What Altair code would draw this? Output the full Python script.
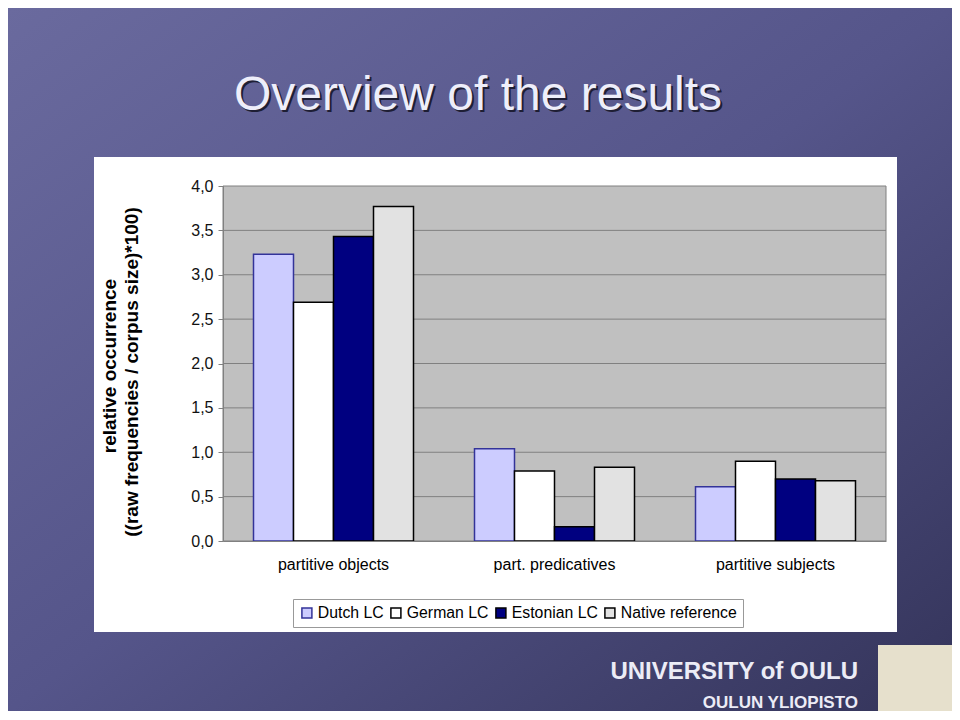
import altair as alt
import pandas as pd

# ---- data ----
categories = ["partitive objects", "part. predicatives", "partitive subjects"]
series = ["Dutch LC", "German LC", "Estonian LC", "Native reference"]
dutch = [3.23, 1.04, 0.61]
german = [2.69, 0.79, 0.90]
estonian = [3.43, 0.16, 0.70]
native = [3.77, 0.83, 0.68]
y_ticks = [0.0, 0.5, 1.0, 1.5, 2.0, 2.5, 3.0, 3.5, 4.0]
grid_vals = [0.5, 1.0, 1.5, 2.0, 2.5, 3.0, 3.5]
title_text = "Overview of the results"
ytitle1 = "relative occurrence"
ytitle2 = "((raw frequencies / corpus size)*100)"
footer1 = "UNIVERSITY of OULU"
footer2 = "OULUN YLIOPISTO"

fills = ["#CCCCFF", "#FFFFFF", "#000080", "#E2E2E2"]
strokes = ["#333399", "#000000", "#000000", "#000000"]

rows = []
for s, vals in zip(series, [dutch, german, estonian, native]):
    for c, v in zip(categories, vals):
        rows.append({"category": c, "series": s, "value": v})
df = pd.DataFrame(rows)
one = pd.DataFrame({"a": [0]})

W, H = 663, 355
PL, PT, PR, PB = 215, 178, 66, 170
FONT = "Liberation Sans, Arial, sans-serif"

y_axis = alt.Axis(values=y_ticks, grid=False, domainColor="#808080",
                  tickColor="#808080", tickSize=5, labelFontSize=16,
                  labelFont=FONT, labelColor="#111111", labelPadding=5,
                  labelExpr="replace(format(datum.value, '.1f'), '.', ',')",
                  zindex=1)
y_scale = alt.Scale(domain=[0, 4], nice=False)

# slide background (gradient)
bg = alt.Chart(one).mark_rect(
    fill=alt.Gradient(
        gradient="linear",
        stops=[alt.GradientStop(color="#6A6A9E", offset=0),
               alt.GradientStop(color="#55558A", offset=0.5),
               alt.GradientStop(color="#34345A", offset=1)],
        x1=0, y1=0, x2=1, y2=1),
).encode(x=alt.value(-PL), x2=alt.value(W + PR), y=alt.value(-PT), y2=alt.value(H + PB))

panel = alt.Chart(one).mark_rect(fill="white").encode(
    x=alt.value(-129), x2=alt.value(674), y=alt.value(-29), y2=alt.value(446))

plotbg = alt.Chart(one).mark_rect(fill="#C0C0C0", stroke="#808080", strokeWidth=1).encode(
    x=alt.value(0), x2=alt.value(W), y=alt.value(0), y2=alt.value(H))

grid = alt.Chart(pd.DataFrame({"value": grid_vals})).mark_rule(color="#808080", strokeWidth=1).encode(
    y=alt.Y("value:Q", title=None, scale=y_scale, axis=y_axis))

bars = alt.Chart(df).mark_bar(strokeWidth=1.5).encode(
    x=alt.X("category:N", sort=categories, title=None,
            scale=alt.Scale(paddingInner=0.276, paddingOuter=0.138),
            axis=alt.Axis(labelAngle=0, ticks=False, domainColor="#808080",
                          labelFontSize=16, labelFont=FONT, labelColor="#000000",
                          labelPadding=15, zindex=1)),
    xOffset=alt.XOffset("series:N", sort=series, scale=alt.Scale(domain=series)),
    y=alt.Y("value:Q", title=None, scale=y_scale, axis=y_axis),
    fill=alt.Fill("series:N", sort=series,
                  scale=alt.Scale(domain=series, range=fills),
                  legend=alt.Legend(title=None, orient="none", legendX=70, legendY=413,
                                    direction="horizontal", strokeColor="#999999",
                                    fillColor="#FFFFFF", padding=6, columnPadding=3,
                                    symbolType="square", symbolSize=100,
                                    labelFontSize=15.8, labelFont=FONT, labelColor="#000000",
                                    labelOffset=3, zindex=1)),
    stroke=alt.Stroke("series:N", sort=series,
                      scale=alt.Scale(domain=series, range=strokes)),
)

ytitle_a = alt.Chart(one).mark_text(text=ytitle1, angle=270, fontSize=19, fontWeight="bold",
                                    font=FONT, color="#000000").encode(
    x=alt.value(-113), y=alt.value(180))
ytitle_b = alt.Chart(one).mark_text(text=ytitle2, angle=270, fontSize=19, fontWeight="bold",
                                    font=FONT, color="#000000").encode(
    x=alt.value(-91), y=alt.value(186))

title_sh = alt.Chart(one).mark_text(text=title_text, fontSize=48, font=FONT,
                                    color="#1E1E34", baseline="alphabetic").encode(
    x=alt.value(257), y=alt.value(-74))
title = alt.Chart(one).mark_text(text=title_text, fontSize=48, font=FONT,
                                 color="#EEEEFA", baseline="alphabetic").encode(
    x=alt.value(255), y=alt.value(-76))

foot1 = alt.Chart(one).mark_text(text=footer1, fontSize=24, fontWeight="bold", font=FONT,
                                 color="#ECECF6", align="right", baseline="alphabetic").encode(
    x=alt.value(635), y=alt.value(493))
foot2 = alt.Chart(one).mark_text(text=footer2, fontSize=17, fontWeight="bold", font=FONT,
                                 color="#ECECF6", align="right", baseline="alphabetic").encode(
    x=alt.value(635), y=alt.value(522))
logo = alt.Chart(one).mark_rect(fill="#E6E0CC").encode(
    x=alt.value(655), x2=alt.value(W + PR), y=alt.value(459), y2=alt.value(H + PB))

chart = alt.layer(bg, panel, plotbg, grid, bars, ytitle_a, ytitle_b, title_sh, title,
                  foot1, foot2, logo).properties(
    width=W, height=H,
    autosize=alt.AutoSizeParams(type="none"),
    padding={"left": PL, "top": PT, "right": PR, "bottom": PB},
    background="#4A4A7A",
).configure_view(stroke=None)

chart.save("out.html", embed_options={"renderer": "svg", "actions": False})
